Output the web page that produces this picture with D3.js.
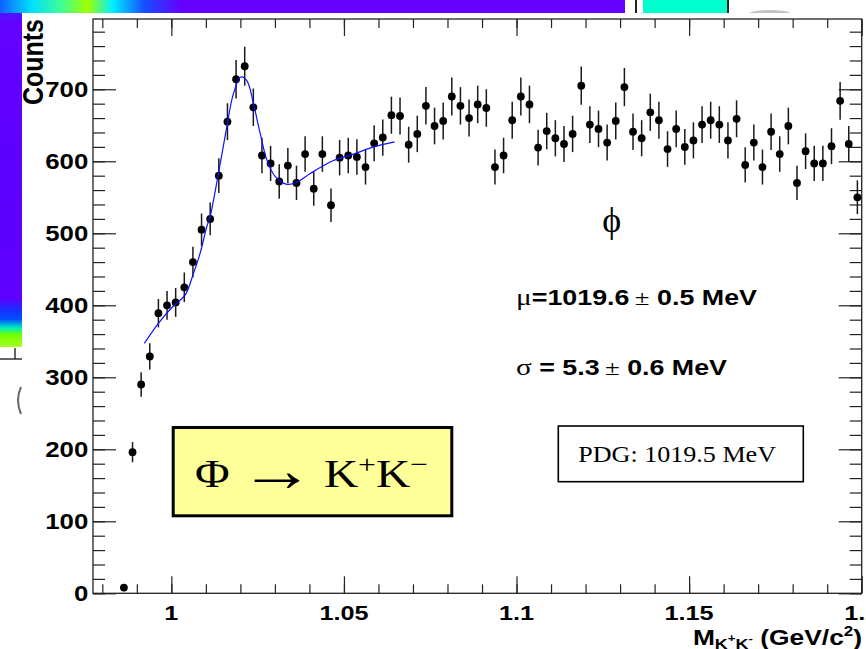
<!DOCTYPE html>
<html>
<head>
<meta charset="utf-8">
<script src="https://d3js.org/d3.v7.min.js"></script>
<style>
  html, body { margin: 0; padding: 0; background: #ffffff; }
  svg { display: block; }
</style>
</head>
<body>
<div id="chart"></div>
<script>
// K+K- invariant mass histogram with the phi(1020) peak fit

// bin centres (GeV/c^2), 2.5 MeV bins
const massGeV = [
  0.98625, 0.98875, 0.99125, 0.99375, 0.99625, 0.99875, 1.00125, 1.00375, 1.00625, 1.00875,
  1.01125, 1.01375, 1.01625, 1.01875, 1.02125, 1.02375, 1.02625, 1.02875, 1.03125, 1.03375,
  1.03625, 1.03875, 1.04125, 1.04375, 1.04625, 1.04875, 1.05125, 1.05375, 1.05625, 1.05875,
  1.06125, 1.06375, 1.06625, 1.06875, 1.07125, 1.07375, 1.07625, 1.07875, 1.08125, 1.08375,
  1.08625, 1.08875, 1.09125, 1.09375, 1.09625, 1.09875, 1.10125, 1.10375, 1.10625, 1.10875,
  1.11125, 1.11375, 1.11625, 1.11875, 1.12125, 1.12375, 1.12625, 1.12875, 1.13125, 1.13375,
  1.13625, 1.13875, 1.14125, 1.14375, 1.14625, 1.14875, 1.15125, 1.15375, 1.15625, 1.15875,
  1.16125, 1.16375, 1.16625, 1.16875, 1.17125, 1.17375, 1.17625, 1.17875, 1.18125, 1.18375,
  1.18625, 1.18875, 1.19125, 1.19375, 1.19625, 1.19875
];

// entries per bin
const counts = [
  8, 196, 290, 329, 389, 400, 404, 425, 460, 505,
  520, 580, 655, 714, 732, 675, 608, 597, 572, 594,
  570, 610, 562, 610, 539, 605, 608, 606, 592, 625,
  633, 664, 663, 623, 638, 677, 649, 656, 690, 677,
  660, 679, 674, 592, 608, 657, 690, 679, 619, 642,
  632, 624, 638, 705, 651, 645, 626, 656, 703, 641,
  632, 668, 657, 617, 645, 620, 629, 651, 657, 651,
  629, 659, 595, 626, 592, 641, 610, 649, 570, 614,
  597, 597, 621, 684, 624, 550
];

// fit curve (gaussian + background)
const fitMassGeV = [
  0.99217, 0.99623, 1.00058, 1.00397, 1.00638, 1.00832, 1.01026, 1.01122, 1.01363, 1.01607,
  1.01798, 1.02013, 1.02187, 1.02378, 1.02572, 1.02766, 1.03007, 1.03347, 1.03637, 1.04022,
  1.04698, 1.05278, 1.05858, 1.06467
];
const fitCounts = [
  347, 375, 399, 414, 444, 472, 509, 523, 583, 648,
  694, 717, 712, 680, 639, 602, 579, 568, 571, 583,
  601, 610, 620, 627
];

const xTickValues = [1, 1.05, 1.1, 1.15, 1.2];
const yTickValues = [0, 100, 200, 300, 400, 500, 600, 700];

const width = 866;
const height = 649;

// ROOT frame
const frame = { left: 93, right: 861.7, top: 19, bottom: 593.3 };

const x = d3.scaleLinear()
    .domain([0.9773, 1.2])
    .range([frame.left, frame.right]);

const y = d3.scaleLinear()
    .domain([0, 797.6])
    .range([frame.bottom, frame.top]);

const sansBold = "'Liberation Sans', Arial, Helvetica, sans-serif";
const serif = "'Liberation Serif', 'Times New Roman', Times, serif";

const svg = d3.select("#chart").append("svg")
    .attr("width", width)
    .attr("height", height);

/**
 * Pieces of the slide picture that sit behind the plot
 */
function drawBackdrop() {
    const defs = svg.append("defs");

    const side = defs.append("linearGradient")
        .attr("id", "sideGrad")
        .attr("x1", 0).attr("y1", 0).attr("x2", 0).attr("y2", 1);
    [[0, "#1a70ff"], [0.03, "#4a18ff"], [0.07, "#6400ff"], [0.5, "#5e00ff"],
     [0.86, "#6000ff"], [0.89, "#1d2cff"], [0.92, "#0050ff"], [0.945, "#00f0c0"],
     [0.965, "#70ff00"], [1, "#a8ff20"]]
        .forEach(s => side.append("stop").attr("offset", s[0]).attr("stop-color", s[1]));

    const top = defs.append("linearGradient")
        .attr("id", "topGrad")
        .attr("x1", 0).attr("y1", 0).attr("x2", 1).attr("y2", 0);
    [[0, "#1060ff"], [0.05, "#00e0ff"], [0.1, "#40ff90"], [0.14, "#a0ff00"],
     [0.18, "#00f0ff"], [0.23, "#1450ff"], [0.29, "#6400ff"], [1, "#6600ff"]]
        .forEach(s => top.append("stop").attr("offset", s[0]).attr("stop-color", s[1]));

    svg.append("rect").attr("x", 0).attr("y", 0).attr("width", 22).attr("height", 347)
        .attr("fill", "url(#sideGrad)");
    svg.append("rect").attr("x", 0).attr("y", 0).attr("width", 625).attr("height", 13)
        .attr("fill", "url(#topGrad)");
    svg.append("rect").attr("x", 635).attr("y", 0).attr("width", 2).attr("height", 13)
        .attr("fill", "#222");
    svg.append("rect").attr("x", 643).attr("y", 0).attr("width", 84).attr("height", 13)
        .attr("fill", "#00ffcc");
    svg.append("rect").attr("x", 727).attr("y", 0).attr("width", 2).attr("height", 13)
        .attr("fill", "#222");
    svg.append("ellipse").attr("cx", 770).attr("cy", 13).attr("rx", 20).attr("ry", 3)
        .attr("fill", "#999").attr("opacity", 0.6);

    // bits of the underlying axis on the left
    svg.append("line").attr("x1", 0).attr("x2", 22).attr("y1", 359).attr("y2", 359)
        .attr("stroke", "#333").attr("stroke-width", 1.5);
    svg.append("line").attr("x1", 15).attr("x2", 15).attr("y1", 348).attr("y2", 359)
        .attr("stroke", "#333").attr("stroke-width", 1.5);
    svg.append("path").attr("d", "M21,387 Q15,400 21,414")
        .attr("fill", "none").attr("stroke", "#666").attr("stroke-width", 2);

    // white pad of the plot
    svg.append("rect").attr("x", 22).attr("y", 13).attr("width", width - 22).attr("height", height - 13)
        .attr("fill", "#ffffff");
}

/**
 * Frame with ROOT style ticks on all four sides
 */
function drawAxes() {
    const xMinor = d3.range(0.98, 1.1999, 0.01).map(v => +v.toFixed(2));
    const yMinor = d3.range(0, 781, 20);
    const noLabel = g => g.call(s => s.select(".domain").remove())
        .call(s => s.selectAll(".tick line").attr("stroke", "#222").attr("stroke-width", 1.2));

    const axes = [
        [d3.axisBottom(x).tickValues(xMinor).tickSizeInner(-9), `translate(0,${frame.bottom})`],
        [d3.axisBottom(x).tickValues(xTickValues).tickSizeInner(-17), `translate(0,${frame.bottom})`],
        [d3.axisTop(x).tickValues(xMinor).tickSizeInner(-9), `translate(0,${frame.top})`],
        [d3.axisTop(x).tickValues(xTickValues).tickSizeInner(-17), `translate(0,${frame.top})`],
        [d3.axisLeft(y).tickValues(yMinor).tickSizeInner(-12), `translate(${frame.left},0)`],
        [d3.axisLeft(y).tickValues(yTickValues).tickSizeInner(-23), `translate(${frame.left},0)`],
        [d3.axisRight(y).tickValues(yMinor).tickSizeInner(-12), `translate(${frame.right},0)`],
        [d3.axisRight(y).tickValues(yTickValues).tickSizeInner(-23), `translate(${frame.right},0)`]
    ];
    axes.forEach(([axis, tr]) => {
        svg.append("g")
            .attr("transform", tr)
            .call(axis.tickSizeOuter(0).tickFormat(""))
            .call(noLabel);
    });

    svg.append("rect")
        .attr("x", frame.left)
        .attr("y", frame.top)
        .attr("width", frame.right - frame.left)
        .attr("height", frame.bottom - frame.top)
        .attr("fill", "none")
        .attr("stroke", "#222")
        .attr("stroke-width", 1.3);

    // tick labels (the picture is stretched sideways a little)
    svg.append("g").selectAll("text")
        .data(yTickValues)
        .enter()
        .append("text")
        .attr("transform", d => `translate(88.3,${y(d) + 7.6}) scale(1.2,1)`)
        .attr("text-anchor", "end")
        .attr("font-family", sansBold)
        .attr("font-weight", "bold")
        .attr("font-size", 21.5)
        .text(d => d);

    svg.append("g").selectAll("text")
        .data(xTickValues)
        .enter()
        .append("text")
        .attr("transform", d => `translate(${x(d)},620) scale(1.2,1)`)
        .attr("text-anchor", "middle")
        .attr("font-family", sansBold)
        .attr("font-weight", "bold")
        .attr("font-size", 21)
        .text(d => d3.format("")(d));

    // axis titles
    svg.append("text")
        .attr("transform", "translate(43,19) scale(1.2,1) rotate(-90)")
        .attr("text-anchor", "end")
        .attr("font-family", sansBold)
        .attr("font-weight", "bold")
        .attr("font-size", 25)
        .text("Counts");

    const xt = svg.append("text")
        .attr("transform", "translate(862,645) scale(1.2,1)")
        .attr("text-anchor", "end")
        .attr("font-family", sansBold)
        .attr("font-weight", "bold")
        .attr("font-size", 22);
    xt.append("tspan").text("M");
    xt.append("tspan").attr("font-size", 15).attr("dy", 4).text("K");
    xt.append("tspan").attr("font-size", 11).attr("dy", -7).text("+");
    xt.append("tspan").attr("font-size", 15).attr("dy", 7).text("K");
    xt.append("tspan").attr("font-size", 11).attr("dy", -7).text("-");
    xt.append("tspan").attr("font-size", 22).attr("dy", 3).text(" (GeV/c");
    xt.append("tspan").attr("font-size", 14).attr("dy", -9).text("2");
    xt.append("tspan").attr("font-size", 22).attr("dy", 9).text(")");
}

/**
 * Histogram points with sqrt(N) error bars, then the fit curve
 */
function drawData() {
    const bins = massGeV.map((m, i) => ({ m: m, n: counts[i] }));

    svg.append("g").selectAll("line")
        .data(bins)
        .enter()
        .append("line")
        .attr("x1", d => x(d.m))
        .attr("x2", d => x(d.m))
        .attr("y1", d => y(d.n - Math.sqrt(d.n)))
        .attr("y2", d => y(d.n + Math.sqrt(d.n)))
        .attr("stroke", "#1a1a1a")
        .attr("stroke-width", 1.5);

    svg.append("g").selectAll("circle")
        .data(bins)
        .enter()
        .append("circle")
        .attr("cx", d => x(d.m))
        .attr("cy", d => y(d.n))
        .attr("r", 3.9)
        .attr("fill", "#000");

    const line = d3.line()
        .x(d => x(d[0]))
        .y(d => y(d[1]))
        .curve(d3.curveCatmullRom);

    svg.append("path")
        .datum(fitMassGeV.map((m, i) => [m, fitCounts[i]]))
        .attr("d", line)
        .attr("fill", "none")
        .attr("stroke", "#1010ff")
        .attr("stroke-width", 1.2);
}

/**
 * Text boxes of the slide
 */
function drawLabels() {
    svg.append("text")
        .attr("x", 611.7)
        .attr("y", 232)
        .attr("text-anchor", "middle")
        .attr("font-family", serif)
        .attr("font-size", 36)
        .text("\u03D5");

    const mu = svg.append("text")
        .attr("x", 516)
        .attr("y", 305.3)
        .attr("textLength", 241)
        .attr("lengthAdjust", "spacingAndGlyphs")
        .attr("font-size", 22);
    mu.append("tspan").attr("font-family", serif).attr("font-size", 24).text("\u03BC");
    mu.append("tspan").attr("font-family", sansBold).attr("font-weight", "bold").text("=1019.6\u2009");
    mu.append("tspan").attr("font-family", serif).text("\u00B1");
    mu.append("tspan").attr("font-family", sansBold).attr("font-weight", "bold").text(" 0.5 MeV");

    const sigma = svg.append("text")
        .attr("x", 516)
        .attr("y", 375)
        .attr("textLength", 211)
        .attr("lengthAdjust", "spacingAndGlyphs")
        .attr("font-size", 22);
    sigma.append("tspan").attr("font-family", serif).attr("font-size", 24).text("\u03C3");
    sigma.append("tspan").attr("font-family", sansBold).attr("font-weight", "bold").text(" = 5.3\u2009");
    sigma.append("tspan").attr("font-family", serif).text("\u00B1");
    sigma.append("tspan").attr("font-family", sansBold).attr("font-weight", "bold").text(" 0.6 MeV");

    // PDG box
    svg.append("rect")
        .attr("x", 558.3).attr("y", 426)
        .attr("width", 245).attr("height", 55.7)
        .attr("fill", "#ffffff")
        .attr("stroke", "#000")
        .attr("stroke-width", 1.6);
    svg.append("text")
        .attr("x", 578.3)
        .attr("y", 461.7)
        .attr("textLength", 197.7)
        .attr("lengthAdjust", "spacingAndGlyphs")
        .attr("font-family", serif)
        .attr("font-size", 24)
        .text("PDG: 1019.5 MeV");

    // decay channel box
    svg.append("rect")
        .attr("x", 173.2).attr("y", 427.5)
        .attr("width", 278.6).attr("height", 88.3)
        .attr("fill", "#ffff99")
        .attr("stroke", "#000")
        .attr("stroke-width", 3);
    const decay = svg.append("text")
        .attr("x", 195)
        .attr("y", 487)
        .attr("textLength", 233)
        .attr("lengthAdjust", "spacingAndGlyphs")
        .attr("font-family", serif)
        .attr("font-size", 39);
    decay.append("tspan").text("\u03A6\u2009");
    decay.append("tspan").attr("font-size", 62).attr("dy", 4).text("\u2192");
    decay.append("tspan").attr("dy", -4).text("\u2009K");
    decay.append("tspan").attr("font-size", 26).attr("dy", -14).text("+");
    decay.append("tspan").attr("dy", 14).text("K");
    decay.append("tspan").attr("font-size", 26).attr("dy", -14).text("\u2212");
}

drawBackdrop();
drawAxes();
drawData();
drawLabels();
</script>
</body>
</html>
